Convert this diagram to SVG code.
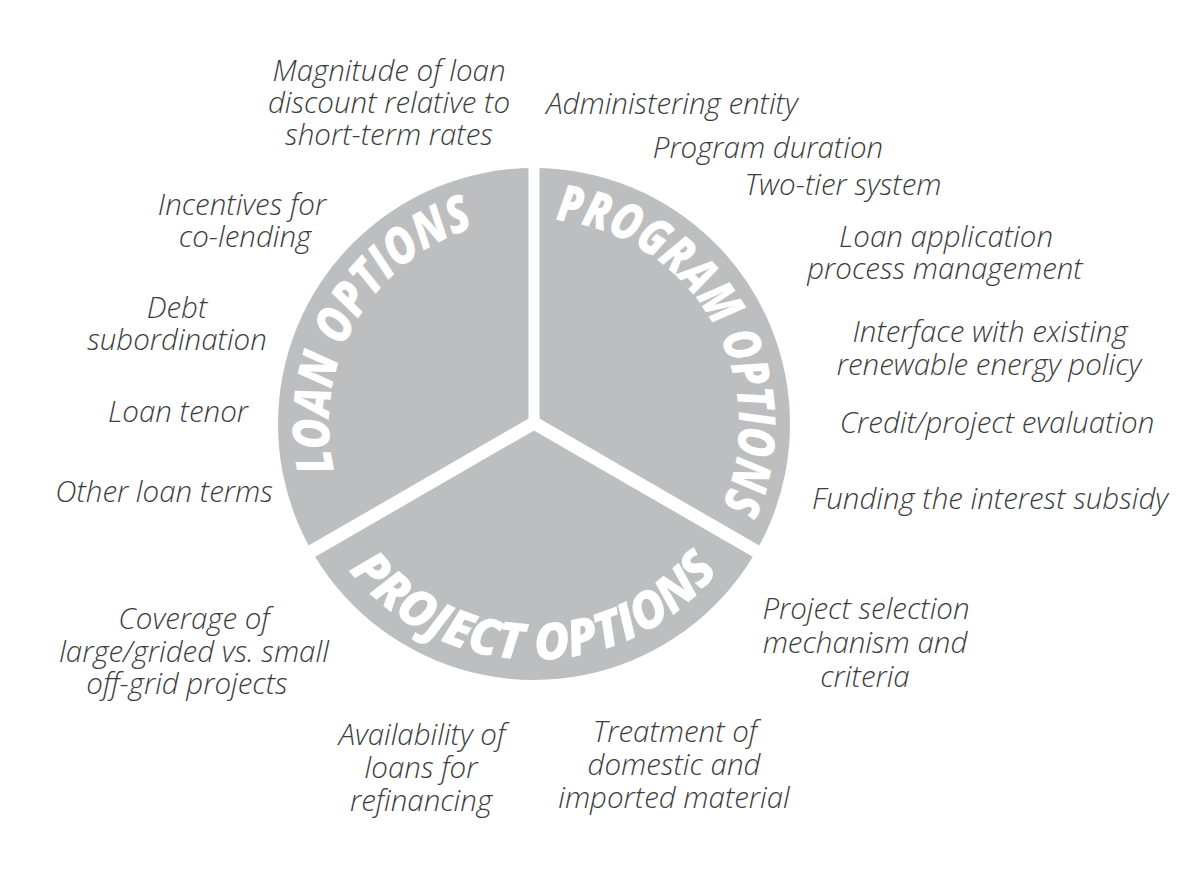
<svg xmlns="http://www.w3.org/2000/svg" width="1192" height="871" viewBox="0 0 1192 871">
<style>
.lbl{font-family:"Open Sans","Liberation Sans",sans-serif;font-style:italic;font-weight:300;font-size:29.5px;fill:#3d3d3d;text-anchor:middle}
.hd{font-family:"Open Sans","Liberation Sans",sans-serif;font-style:italic;font-weight:800;font-size:51px;fill:#ffffff;text-anchor:middle}
.gap{stroke:#ffffff;fill:none}
</style>
<defs>
<path id="pLoan" d="M431.5 601.5 A205 205 0 0 1 356.5 321.5 A205 205 0 0 1 636.5 246.5"/>
<path id="pProg" d="M431.5 246.5 A205 205 0 0 1 711.5 321.5 A205 205 0 0 1 636.5 601.5"/>
<path id="pProj" d="M298 424 A236 236 0 0 0 534 660 A236 236 0 0 0 770 424"/>
</defs>
<rect width="1192" height="871" fill="#ffffff"/>
<g id="wheel">
<circle cx="534" cy="424" r="256" fill="#bdbec0"/>
</g>
<g id="connectors">
<line class="gap" stroke-width="11" x1="534" y1="424" x2="534" y2="160"/>
<line class="gap" stroke-width="13" x1="534" y1="423" x2="300" y2="558"/>
<line class="gap" stroke-width="13" x1="534" y1="423" x2="768" y2="558"/>
</g>
<g id="loan-options">
<text class="hd"><textPath href="#pLoan" startOffset="50%" textLength="308" lengthAdjust="spacingAndGlyphs">LOAN OPTIONS</textPath></text>
</g>
<g id="program-options">
<text class="hd"><textPath href="#pProg" startOffset="50%" textLength="386" lengthAdjust="spacingAndGlyphs">PROGRAM OPTIONS</textPath></text>
</g>
<g id="project-options">
<text class="hd"><textPath href="#pProj" startOffset="50%" textLength="426" lengthAdjust="spacingAndGlyphs">PROJECT OPTIONS</textPath></text>
</g>
<g id="label-magnitude"><text class="lbl"><tspan x="389" y="81">Magnitude of loan</tspan><tspan x="389" y="113">discount relative to</tspan><tspan x="389" y="145">short-term rates</tspan></text></g>
<g id="label-administering"><text class="lbl" x="672" y="114">Administering entity</text></g>
<g id="label-duration"><text class="lbl" x="768" y="158">Program duration</text></g>
<g id="label-twotier"><text class="lbl" x="843" y="195">Two-tier system</text></g>
<g id="label-incentives"><text class="lbl"><tspan x="242" y="215">Incentives for</tspan><tspan x="245" y="247">co-lending</tspan></text></g>
<g id="label-loanapp"><text class="lbl"><tspan x="946" y="247">Loan application</tspan><tspan x="945" y="279">process management</tspan></text></g>
<g id="label-debt"><text class="lbl"><tspan x="177" y="318">Debt</tspan><tspan x="177" y="350">subordination</tspan></text></g>
<g id="label-interface"><text class="lbl"><tspan x="990" y="342">Interface with existing</tspan><tspan x="989" y="375">renewable energy policy</tspan></text></g>
<g id="label-tenor"><text class="lbl" x="178" y="422">Loan tenor</text></g>
<g id="label-credit"><text class="lbl" x="997" y="433">Credit/project evaluation</text></g>
<g id="label-otherterms"><text class="lbl" x="164" y="502">Other loan terms</text></g>
<g id="label-funding"><text class="lbl" x="990" y="509">Funding the interest subsidy</text></g>
<g id="label-selection"><text class="lbl"><tspan x="866" y="619">Project selection</tspan><tspan x="865" y="653">mechanism and</tspan><tspan x="865" y="687">criteria</tspan></text></g>
<g id="label-coverage"><text class="lbl"><tspan x="194" y="629">Coverage of</tspan><tspan x="194" y="662">large/grided vs. small</tspan><tspan x="187" y="694">off-grid projects</tspan></text></g>
<g id="label-availability"><text class="lbl"><tspan x="422" y="745">Availability of</tspan><tspan x="421" y="778">loans for</tspan><tspan x="421" y="811">refinancing</tspan></text></g>
<g id="label-treatment"><text class="lbl"><tspan x="675" y="742">Treatment of</tspan><tspan x="674" y="775">domestic and</tspan><tspan x="674" y="808">imported material</tspan></text></g>
</svg>
